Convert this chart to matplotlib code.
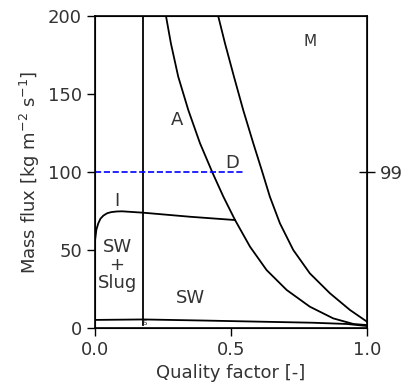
import matplotlib
matplotlib.use("Agg")
import matplotlib.pyplot as plt

# boundary curves (quality factor, mass flux)
x_isw = [0.0, 0.005, 0.012, 0.02, 0.031, 0.045, 0.06, 0.08, 0.1, 0.178, 0.35, 0.515]
y_isw = [56, 63, 67, 70, 72, 73.5, 74.2, 74.6, 74.7, 73.8, 71.2, 69.1]

x_ai = [0.261, 0.279, 0.306, 0.343, 0.386, 0.433, 0.472, 0.515, 0.570, 0.631,
        0.705, 0.790, 0.876, 0.950, 1.0]
y_ai = [200, 182.5, 161.1, 139.7, 118.4, 99.1, 84.1, 69.1, 52.0, 37.0,
        24.2, 13.5, 6.0, 2.4, 1.7]

x_dm = [0.453, 0.478, 0.511, 0.545, 0.582, 0.613, 0.643, 0.680, 0.729, 0.790,
        0.864, 0.9375, 1.0]
y_dm = [200, 182.5, 161.1, 139.7, 118.4, 101.2, 84.1, 67.0, 49.9, 34.9,
        22.1, 11.4, 3.9]

x_s = [0.0, 0.178, 0.4, 0.6, 0.8, 0.926, 1.0]
y_s = [5.0, 5.3, 4.6, 3.9, 3.2, 2.4, 1.1]

x_slug = [0.178, 0.178]
y_slug = [200, 2]

x_op = [0.0, 0.545]
y_op = [100, 100]

regions = ["M", "A", "D", "I", "SW\n+\nSlug", "SW"]
region_x = [0.79, 0.30, 0.505, 0.081, 0.081, 0.35]
region_y = [184, 133, 106, 81, 40, 19]

plt.rcParams['font.size'] = 13

fig = plt.figure(figsize=(4.01, 3.92), dpi=100)
ax = fig.add_axes([0.237, 0.164, 0.678, 0.795])

lw = 1.3
ax.plot(x_isw, y_isw, color='black', lw=lw)
ax.plot(x_ai, y_ai, color='black', lw=lw)
ax.plot(x_dm, y_dm, color='black', lw=lw)
ax.plot(x_s, y_s, color='black', lw=lw)
ax.plot(x_slug, y_slug, color='black', lw=lw)
ax.plot(x_op, y_op, color='blue', lw=1.2, ls='--')

for name, rx, ry in zip(regions, region_x, region_y):
    fs = 11 if name == "M" else 13
    ax.text(rx, ry, name, ha='center', va='center', fontsize=fs, color='#333333',
            linespacing=1.0)
ax.text(0.181, 3.0, "S", ha='center', va='center', fontsize=5, color='#333333')

ax.set_xlim(0, 1)
ax.set_ylim(0, 200)
ax.set_xticks([0.0, 0.5, 1.0])
ax.set_yticks([0, 50, 100, 150, 200])
ax.tick_params(direction='out', length=6, width=1.0, labelcolor='#333333')
ax.set_xlabel("Quality factor [-]", color='#333333')
ax.set_ylabel("Mass flux [kg m$^{-2}$ s$^{-1}$]", color='#333333')
for sp in ax.spines.values():
    sp.set_linewidth(1.2)

ax2 = ax.twinx()
ax2.set_ylim(0, 200)
ax2.set_yticks([100])
ax2.set_yticklabels(["99"])
ax2.tick_params(direction='inout', length=12, width=1.0, labelcolor='#333333', pad=3)

fig.savefig("out.png", dpi=100)
